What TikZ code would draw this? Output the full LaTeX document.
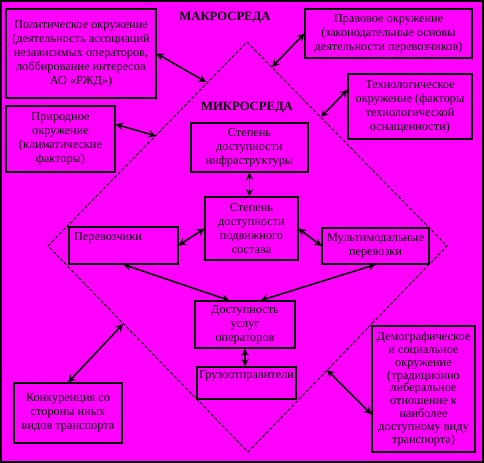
\documentclass[tikz,border=0pt]{standalone}
\usepackage{fontspec}
\setmainfont{Liberation Serif}
\definecolor{bgmag}{RGB}{255,0,255}

\begin{document}
\begin{tikzpicture}[x=0.02cm, y=-0.02cm,
	every node/.style={font=\fontsize{7}{8}\selectfont, align=center, inner sep=1pt},
	box/.style={draw, line width=0.6pt},
	arr/.style={<->, >=stealth, line width=0.9pt},
	zone/.style={font=\fontsize{7.2}{8}\selectfont\bfseries}]
	\fill[bgmag] (0,0) rectangle (484,463);
	\useasboundingbox (0,0) rectangle (484,463);
	\draw[line width=1.2pt] (1,1) rectangle (483,462);
	
	% diamond of the micro environment
	\draw[dash pattern=on 2pt off 1pt, line width=0.5pt] (247,42) -- (447,246) -- (248,452) -- (48,246) -- cycle;
	\coordinate (d1) at (206,82);
	\coordinate (d2) at (272,67);
	\coordinate (d3) at (321,117);
	\coordinate (d4) at (156,136);
	\coordinate (d5) at (123,324);
	\coordinate (d6) at (327,370);
	
	\node[zone] (macro) at (225,18) {МАКРОСРЕДА};
	\node[zone] (micro) at (247,108) {МИКРОСРЕДА};
	
	% macro environment
	\node[box, minimum width=3cm, minimum height=1.78cm] (polit) at (81,53.5) {Политическое окружение\\(деятельность ассоциаций\\независимых операторов,\\лоббирование интересов\\АО «РЖД»)};
	\node[box, minimum width=3.34cm, minimum height=0.98cm] (legal) at (388.5,33.5) {Правовое окружение\\(законодательные основы\\деятельности перевозчиков)};
	\node[box, minimum width=2.48cm, minimum height=1.3cm] (tech) at (410,106.5) {Технологическое\\окружение (факторы\\технологической\\оснащенности)};
	\node[box, minimum width=2.18cm, minimum height=1.32cm] (nature) at (60.5,139) {Природное\\окружение\\(климатические\\факторы)};
	\node[box, minimum width=2.16cm, minimum height=1.2cm] (compet) at (68,413) {Конкуренция со\\стороны иных\\видов транспорта};
	\node[box, minimum width=2.06cm, minimum height=2.52cm, font=\fontsize{7}{7.3}\selectfont] (demog) at (423.5,389) {Демографическое\\и социальное\\окружение\\(традиционно\\либеральное\\отношение к\\наиболее\\доступному виду\\транспорта)};
	
	% micro environment
	\node[box, minimum width=2.34cm, minimum height=0.98cm] (infra) at (249.5,147.5) {Степень\\доступности\\инфраструктуры};
	\node[box, minimum width=1.86cm, minimum height=1.26cm] (rolling) at (251.5,228.5) {Степень\\доступности\\подвижного\\состава};
	\node[box, minimum width=2.18cm, minimum height=0.74cm, label={[anchor=north west, inner sep=3pt]north west:Перевозчики}] (carrier) at (123.5,245.5) {};
	\node[box, minimum width=2.14cm, minimum height=0.72cm] (multi) at (375.5,246) {Мультимодальные\\перевозки};
	\node[box, minimum width=2cm, minimum height=0.94cm] (access) at (245,324.5) {Доступность\\услуг\\операторов};
	\node[box, minimum width=1.98cm, minimum height=0.64cm, label={[anchor=north, inner sep=2pt]north:Грузоотправители}] (shipper) at (246.5,383) {};
	
	\draw[arr] (polit.east) -- (d1);
	\draw[arr] (legal.west) -- (d2);
	\draw[arr] (tech.165) -- (d3);
	\draw[arr] (nature.15) -- (d4);
	\draw[arr] (compet.north) -- (d5);
	\draw[arr] (demog.206) -- (d6);
	\draw[arr] (infra.south) -- (infra.south |- rolling.north);
	\draw[arr] (carrier.east) -- (rolling.west);
	\draw[arr] (rolling.east) -- (multi.west);
	\draw[arr] (carrier.south) -- (access.123);
	\draw[arr] (multi.south) -- (access.57);
	\draw[arr] (access.south) -- (access.south |- shipper.north);
	
\end{tikzpicture}
\end{document}
